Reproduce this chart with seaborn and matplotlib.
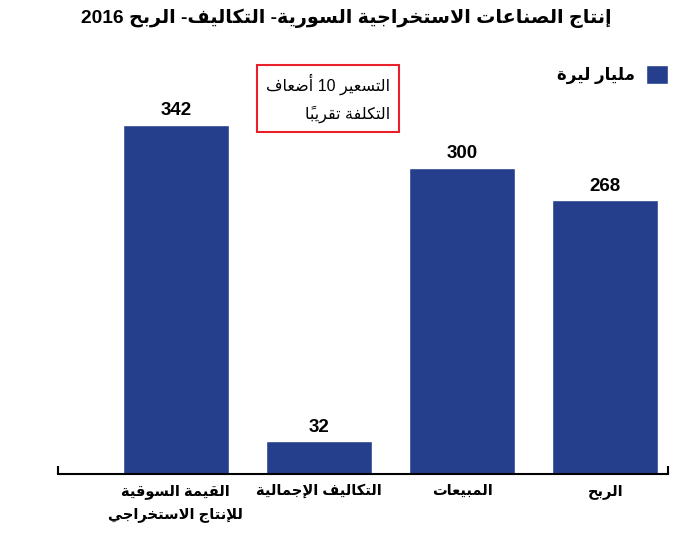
import re
import seaborn as sns
import matplotlib
matplotlib.use('Agg')
import matplotlib.pyplot as plt


# data
title = 'إنتاج الصناعات الاستخراجية السورية- التكاليف- الربح 2016'
unit_label = 'مليار ليرة'
note_lines = ['التسعير 10 أضعاف', 'التكلفة تقريباً']
categories = ['القيمة السوقية\nللإنتاج الاستخراجي', 'التكاليف الإجمالية', 'المبيعات', 'الربح']
values = [342, 32, 300, 268]

bar_color = '#263f8d'
arabic_fonts = ['Liberation Sans', 'DejaVu Sans']

# matplotlib does no arabic shaping, so map letters to presentation forms
# (letter, first codepoint, number of forms: isolated/final/initial/medial)
_letters = [('ء', 0xFE80, 1), ('آ', 0xFE81, 2), ('أ', 0xFE83, 2), ('ؤ', 0xFE85, 2),
            ('إ', 0xFE87, 2), ('ئ', 0xFE89, 4), ('ا', 0xFE8D, 2), ('ب', 0xFE8F, 4),
            ('ة', 0xFE93, 2), ('ت', 0xFE95, 4), ('ث', 0xFE99, 4), ('ج', 0xFE9D, 4),
            ('ح', 0xFEA1, 4), ('خ', 0xFEA5, 4), ('د', 0xFEA9, 2), ('ذ', 0xFEAB, 2),
            ('ر', 0xFEAD, 2), ('ز', 0xFEAF, 2), ('س', 0xFEB1, 4), ('ش', 0xFEB5, 4),
            ('ص', 0xFEB9, 4), ('ض', 0xFEBD, 4), ('ط', 0xFEC1, 4), ('ظ', 0xFEC5, 4),
            ('ع', 0xFEC9, 4), ('غ', 0xFECD, 4), ('ف', 0xFED1, 4), ('ق', 0xFED5, 4),
            ('ك', 0xFED9, 4), ('ل', 0xFEDD, 4), ('م', 0xFEE1, 4), ('ن', 0xFEE5, 4),
            ('ه', 0xFEE9, 4), ('و', 0xFEED, 2), ('ى', 0xFEEF, 2), ('ي', 0xFEF1, 4)]
FORMS = {ch: (start, n) for ch, start, n in _letters}
for alef, start in [('آ', 0xFEF5), ('أ', 0xFEF7), ('إ', 0xFEF9), ('ا', 0xFEFB)]:
    FORMS['ل' + alef] = (start, 2)


def shape(text):
    if '\n' in text:
        return '\n'.join(shape(t) for t in text.split('\n'))
    clusters = []
    for ch in text:
        if '\u064b' <= ch <= '\u0652' and clusters:
            clusters[-1][1] += ch
        else:
            clusters.append([ch, ''])
    merged = []
    i = 0
    while i < len(clusters):
        b, m = clusters[i]
        if b == 'ل' and not m and i + 1 < len(clusters) and 'ل' + clusters[i + 1][0] in FORMS:
            merged.append(['ل' + clusters[i + 1][0], clusters[i + 1][1]])
            i += 2
        else:
            merged.append([b, m])
            i += 1
    out = []
    for i, (b, m) in enumerate(merged):
        if b not in FORMS:
            out.append(b + m)
            continue
        start, n = FORMS[b]
        prev_joins = i > 0 and merged[i - 1][0] in FORMS and FORMS[merged[i - 1][0]][1] == 4
        next_joins = n == 4 and i + 1 < len(merged) and merged[i + 1][0] in FORMS
        if n == 1:
            form = 0
        elif prev_joins and next_joins:
            form = 3
        elif prev_joins:
            form = 1
        elif next_joins:
            form = 2
        else:
            form = 0
        out.append(chr(start + form) + m)
    s = ''.join(reversed(out))
    return re.sub(r'[0-9]+', lambda mt: mt.group()[::-1], s)


sns.set_style('white')
plt.rcParams['font.family'] = arabic_fonts
plt.rcParams['text.color'] = 'black'
plt.rcParams['xtick.color'] = 'black'

fig = plt.figure(figsize=(6.92, 5.33), dpi=100)
ax = fig.add_axes([0.0842, 0.1107, 0.8816, 0.8143])

sns.barplot(x=list(range(len(values))), y=values, color=bar_color, width=0.74,
            saturation=1, label=shape(unit_label), ax=ax)

ax.set_xlim(-0.821, 3.439)
ax.set_ylim(0, 425)
ax.bar_label(ax.containers[0], labels=[str(v) for v in values], padding=4,
             fontsize=13.5, fontweight='bold', family=arabic_fonts)

for side in ['top', 'left', 'right']:
    ax.spines[side].set_visible(False)
ax.spines['bottom'].set_linewidth(1.5)
ax.spines['bottom'].set_color('black')
ax.set_yticks([])
ax.set_xticks(range(len(categories)), labels=[shape(c) for c in categories])
ax.tick_params(axis='x', which='major', length=0, pad=7, labelsize=10.5)
for lab in ax.get_xticklabels():
    lab.set_fontweight('bold')
    lab.set_linespacing(1.8)
ax.set_xticks([-0.821, 3.439], minor=True)
ax.tick_params(axis='x', which='minor', bottom=True, direction='in', length=5.5,
               width=1.5, color='black')
ax.set_xlabel('')
ax.set_ylabel('')

ax.legend(loc='upper right', bbox_to_anchor=(668 / 692, 1 - 65 / 533),
          bbox_transform=fig.transFigure, frameon=False, markerfirst=False,
          handlelength=1.3, handleheight=1.4, handletextpad=0.7,
          borderpad=0, borderaxespad=0,
          prop={'family': arabic_fonts, 'weight': 'bold', 'size': 12})

fig.text(0.5, 1 - 18 / 533, shape(title), ha='center', va='center',
         fontsize=13.8, fontweight='bold')

fig.text(390 / 692, 1 - 74 / 533, '\n'.join(shape(t) for t in note_lines),
         ha='right', va='top', fontsize=11.5, linespacing=1.75,
         bbox=dict(boxstyle='square,pad=0.55', facecolor='white',
                   edgecolor='#e8202a', linewidth=1.5))

fig.savefig('out.png', dpi=100)
